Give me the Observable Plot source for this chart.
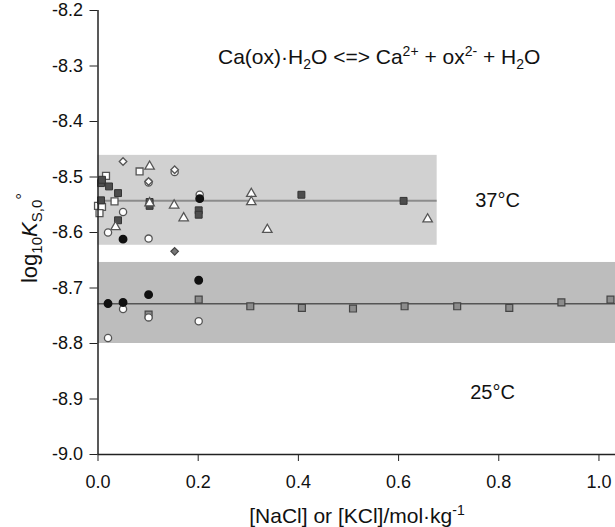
<!DOCTYPE html>
<html>
<head>
<meta charset="utf-8">
<script src="https://cdn.jsdelivr.net/npm/d3@7"></script>
<script src="https://cdn.jsdelivr.net/npm/@observablehq/plot@0.6"></script>
<style>
  html, body { margin: 0; padding: 0; background: #fff; }
  svg { display: block; }
</style>
</head>
<body>
<div id="chart"></div>
<script>
// ---- data ----
// 37 °C series
const filledSquare37 = [[0.006,-8.511],[0.008,-8.505],[0.022,-8.517],[0.040,-8.529],[0.006,-8.542],[0.040,-8.578],[0.103,-8.545],[0.103,-8.552],[0.201,-8.560],[0.201,-8.568],[0.406,-8.532],[0.610,-8.543]];
const openSquare37 = [[0.016,-8.498],[0.083,-8.490],[0.033,-8.544],[0.000,-8.552],[0.008,-8.554],[0.003,-8.565]];
const openTriangle37 = [[0.103,-8.481],[0.103,-8.547],[0.152,-8.551],[0.171,-8.574],[0.035,-8.590],[0.306,-8.530],[0.306,-8.545],[0.338,-8.595],[0.658,-8.576]];
const openCircle37 = [[0.153,-8.491],[0.101,-8.510],[0.203,-8.532],[0.050,-8.563],[0.020,-8.600],[0.101,-8.611]];
const filledCircle37 = [[0.203,-8.539],[0.050,-8.612]];
const openDiamond37 = [[0.050,-8.472],[0.153,-8.487],[0.101,-8.508]];
const grayDiamond37 = [[0.153,-8.634]];
// 25 °C series
const filledCircle25 = [[0.201,-8.686],[0.101,-8.712],[0.020,-8.728],[0.050,-8.726]];
const openCircle25 = [[0.050,-8.738],[0.101,-8.753],[0.201,-8.760],[0.020,-8.790]];
const graySquare25 = [[0.201,-8.721],[0.101,-8.748],[0.304,-8.733],[0.407,-8.736],[0.509,-8.737],[0.612,-8.733],[0.717,-8.733],[0.821,-8.736],[0.925,-8.726],[1.023,-8.721]];

// uncertainty bands and mean lines
const bandLabels = ["37°C", "25°C"];
const bandX2 = [0.677, 1.033];
const bandTop = [-8.461, -8.654];
const bandBottom = [-8.623, -8.800];
const meanValue = [-8.543, -8.7285];
const labelX = [0.753, 0.743];
const labelY = [-8.542, -8.888];

// axis ticks
const xTicks = [0, 0.2, 0.4, 0.6, 0.8, 1.0];
const yTicks = [-9.0, -8.9, -8.8, -8.7, -8.6, -8.5, -8.4, -8.3, -8.2];

const bands = bandLabels.map((t, i) => ({t, x2: bandX2[i], y1: bandBottom[i], y2: bandTop[i], mean: meanValue[i], lx: labelX[i], ly: labelY[i]}));
const toObj = a => a.map(([x, y]) => ({x, y}));

const openStyle = {fill: "white", stroke: "#555", strokeWidth: 1.3};
const font = "Liberation Sans, Arial, Helvetica, sans-serif";

const svg = Plot.plot({
  width: 615,
  height: 527,
  marginLeft: 97.5,
  marginRight: 0,
  marginTop: 10,
  marginBottom: 73,
  style: {fontFamily: font, fontSize: "18px", color: "#222", background: "white"},
  x: {domain: [0, 1.033], label: null},
  y: {domain: [-9.0, -8.2], label: null},
  marks: [
    Plot.rect(bands, {x1: 0, x2: "x2", y1: "y1", y2: "y2", fill: (d, i) => i === 0 ? "#d1d1d1" : "#bdbdbd"}),
    Plot.ruleY(bands, {y: "mean", x1: 0, x2: "x2", stroke: (d, i) => i === 0 ? "#8c8c8c" : "#555", strokeWidth: (d, i) => i === 0 ? 2 : 1.6}),
    Plot.text(bands, {x: "lx", y: "ly", text: "t", textAnchor: "start", fontSize: 20, fill: "#111"}),
    Plot.dot(toObj(graySquare25), {x: "x", y: "y", symbol: "square", r: 3.9, fill: "#8c8c8c", stroke: "#444", strokeWidth: 1.2}),
    Plot.dot(toObj(openCircle25), {x: "x", y: "y", symbol: "circle", r: 3.6, ...openStyle}),
    Plot.dot(toObj(filledCircle25), {x: "x", y: "y", symbol: "circle", r: 3.7, fill: "#111", stroke: "#111"}),
    Plot.dot(toObj(openSquare37), {x: "x", y: "y", symbol: "square", r: 3.9, ...openStyle}),
    Plot.dot(toObj(filledSquare37), {x: "x", y: "y", symbol: "square", r: 3.9, fill: "#4d4d4d", stroke: "#333", strokeWidth: 1}),
    Plot.dot(toObj(openTriangle37), {x: "x", y: "y", symbol: "triangle", r: 3.5, ...openStyle}),
    Plot.dot(toObj(openCircle37), {x: "x", y: "y", symbol: "circle", r: 3.6, ...openStyle}),
    Plot.dot(toObj(filledCircle37), {x: "x", y: "y", symbol: "circle", r: 3.7, fill: "#111", stroke: "#111"}),
    Plot.dot(toObj(openDiamond37), {x: "x", y: "y", symbol: "diamond2", r: 3.4, ...openStyle}),
    Plot.dot(toObj(grayDiamond37), {x: "x", y: "y", symbol: "diamond2", r: 3.4, fill: "#777", stroke: "#444", strokeWidth: 1.2}),
    Plot.axisX({ticks: xTicks, tickFormat: d => d.toFixed(1), tickSize: 7, tickPadding: 14, stroke: "#222", fill: "#111", label: null}),
    Plot.axisY({ticks: yTicks, tickFormat: d => d.toFixed(1), tickSize: 8, tickPadding: 7, stroke: "#222", fill: "#111", label: null}),
    Plot.ruleX([0], {stroke: "#222", strokeWidth: 1.5}),
    Plot.ruleY([-9.0], {stroke: "#222", strokeWidth: 1.5})
  ]
});

const s = d3.select(svg);
// Title (equation)
const title = s.append("text").attr("x", 218).attr("y", 64).attr("text-anchor", "start")
  .attr("font-family", font).attr("font-size", 21).attr("fill", "#111");
title.append("tspan").text("Ca(ox)·H");
title.append("tspan").attr("font-size", 14).attr("dy", 5).text("2");
title.append("tspan").attr("dy", -5).text("O <=> Ca");
title.append("tspan").attr("font-size", 14).attr("dy", -8).text("2+");
title.append("tspan").attr("dy", 8).text(" + ox");
title.append("tspan").attr("font-size", 14).attr("dy", -8).text("2-");
title.append("tspan").attr("dy", 8).text(" + H");
title.append("tspan").attr("font-size", 14).attr("dy", 5).text("2");
title.append("tspan").attr("dy", -5).text("O");

// X axis label
const xl = s.append("text").attr("x", 357).attr("y", 523).attr("text-anchor", "middle")
  .attr("font-family", font).attr("font-size", 21).attr("fill", "#111");
xl.append("tspan").text("[NaCl] or [KCl]/mol·kg");
xl.append("tspan").attr("font-size", 14).attr("dy", -8).text("-1");

// Y axis label
const yl = s.append("text").attr("transform", "translate(37,238) rotate(-90)").attr("text-anchor", "middle")
  .attr("font-family", font).attr("font-size", 22).attr("fill", "#111");
yl.append("tspan").text("log");
yl.append("tspan").attr("font-size", 15).attr("dy", 5).text("10");
yl.append("tspan").attr("dy", -5).attr("font-style", "italic").text("K");
yl.append("tspan").attr("font-size", 15).attr("dy", 5).text("S,0");
yl.append("tspan").attr("font-size", 17).attr("dy", -14).text("°");

document.getElementById("chart").appendChild(svg);
</script>
</body>
</html>
